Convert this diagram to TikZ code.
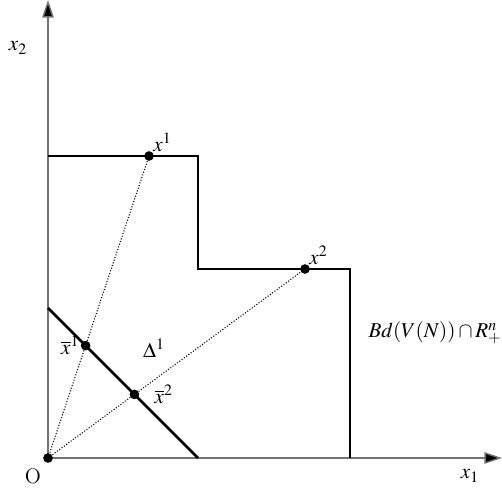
\documentclass[tikz,border=0pt]{standalone}
\usepackage{mathptmx}
\usetikzlibrary{arrows.meta}
\tikzset{
 axis/.style={draw=black!55,line width=.8pt,-{Triangle[length=10pt,width=6.5pt,fill=black]}},
 bound/.style={line width=1.6pt,line join=miter},
 ray/.style={densely dotted,line width=.6pt},
 pt/.style={circle,fill=black,inner sep=0pt,minimum size=5.5pt},
}
\begin{document}
\begin{tikzpicture}[x=.02cm,y=.02cm,font=\fontsize{12}{14}\selectfont]
 \useasboundingbox (-48,-31) rectangle (454,458);
 % axes
 \coordinate (O) at (0,0);
 \coordinate (xend) at (454,0);
 \coordinate (yend) at (0,458);
 \draw[axis] (O)--(xend);
 \draw[axis] (O)--(yend);
 \node (lx1) at (422,-18) {$x_1$};
 \node (lx2) at (-30,410) {$x_2$};
 \node (lO) at (-15,-18) {O};
 % boundary of V(N)
 \coordinate (a) at (0,302);
 \coordinate (b) at (150,302);
 \coordinate (c) at (150,189);
 \coordinate (d) at (302,189);
 \coordinate (e) at (302,0);
 \draw[bound] (a)--(b)--(c)--(d)--(e);
 % simplex
 \coordinate (s1) at (0,150);
 \coordinate (s2) at (150,0);
 \draw[bound] (s1)--(s2);
 % points
 \node[pt] (x1) at (101,302) {};
 \node[pt] (x2) at (257,189) {};
 \node[pt] (xb1) at (37.6,112.4) {};
 \node[pt] (xb2) at (86.4,63.6) {};
 \node[pt] (o) at (O) {};
 \draw[ray] (O)--(x1);
 \draw[ray] (O)--(x2);
 \node[above right=-1pt] at (x1) {$x^1$};
 \node[above right=-1pt] at (x2) {$x^2$};
 \node[left=0pt] at (xb1) {$\overline{x}^1$};
 \node[right=8pt] at (xb2) {$\overline{x}^2$};
 \node (delta) at (106,110) {$\Delta^1$};
 \node (bd) at (387,125) {$Bd(V(N))\cap R^n_+$};
\end{tikzpicture}
\end{document}
